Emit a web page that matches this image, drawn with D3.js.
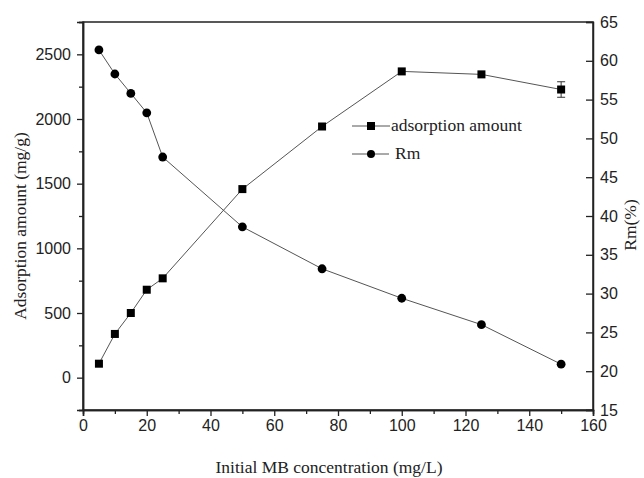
<!DOCTYPE html>
<html>
<head>
<meta charset="utf-8">
<script src="https://cdn.jsdelivr.net/npm/d3@7"></script>
<style>
  body { margin: 0; background: #fff; }
  .tick text { font-family: "Liberation Sans", Arial, sans-serif; font-size: 16px; fill: #222; }
  .lbl { font-family: "Liberation Serif", "Times New Roman", serif; font-size: 17.5px; fill: #222; }
</style>
</head>
<body>
<svg id="chart" width="644" height="478"></svg>
<script>
// Data
const conc = [5, 10, 15, 20, 25, 50, 75, 100, 125, 150];
const adsorption = [108, 338, 500, 680, 768, 1458, 1942, 2368, 2345, 2228];
const adsorptionErr = [0, 0, 0, 0, 0, 0, 0, 0, 0, 60];
const rm = [61.4, 58.3, 55.8, 53.3, 47.6, 38.6, 33.2, 29.4, 26.0, 20.9];

const xTicks = d3.range(0, 161, 20);
const leftTicks = d3.range(0, 2501, 500);
const rightTicks = d3.range(15, 66, 5);

const svg = d3.select('#chart');
const m = { left: 83, right: 593, top: 22, bottom: 410 };

const x = d3.scaleLinear().domain([0, 160]).range([m.left, m.right]);
const yL = d3.scaleLinear().domain([-250, 2750]).range([m.bottom, m.top]);
const yR = d3.scaleLinear().domain([15, 65]).range([m.bottom, m.top]);
const fmt = d3.format('d');

// frame
svg.append('rect')
  .attr('x', m.left).attr('y', m.top)
  .attr('width', m.right - m.left).attr('height', m.bottom - m.top)
  .attr('fill', 'none').attr('stroke', '#222').attr('stroke-width', 1.5);

// bottom axis: major + minor ticks outward
svg.append('g')
  .attr('transform', `translate(0,${m.bottom})`)
  .call(d3.axisBottom(x).tickValues(xTicks).tickFormat(fmt).tickSize(6).tickPadding(4));
svg.append('g')
  .attr('transform', `translate(0,${m.bottom})`)
  .call(d3.axisBottom(x).tickValues(d3.range(10, 160, 20)).tickSize(4).tickFormat(''));

// left axis
svg.append('g')
  .attr('transform', `translate(${m.left},0)`)
  .call(d3.axisLeft(yL).tickValues(leftTicks).tickFormat(fmt).tickSize(6).tickPadding(6));
svg.append('g')
  .attr('transform', `translate(${m.left},0)`)
  .call(d3.axisLeft(yL).tickValues(d3.range(-250, 2751, 500)).tickSize(4).tickFormat(''));

// right axis, ticks inward, labels outside
const rAxis = svg.append('g')
  .attr('transform', `translate(${m.right},0)`)
  .call(d3.axisRight(yR).tickValues(rightTicks).tickFormat(fmt).tickSize(-7));
rAxis.selectAll('.tick text').attr('x', 7);

svg.selectAll('.domain').attr('stroke', '#222').attr('stroke-width', 1.5);
svg.selectAll('.tick line').attr('stroke', '#222').attr('stroke-width', 1.3);

const lineColor = '#555';

// adsorption amount series
const lineA = d3.line().x((d, i) => x(conc[i])).y(d => yL(d));
svg.append('path').datum(adsorption)
  .attr('d', lineA).attr('fill', 'none').attr('stroke', lineColor).attr('stroke-width', 1);

// error bars
adsorption.forEach((v, i) => {
  const e = adsorptionErr[i];
  if (!e) return;
  const cx = x(conc[i]);
  const g = svg.append('g').attr('stroke', '#333').attr('stroke-width', 1);
  g.append('line').attr('x1', cx).attr('x2', cx).attr('y1', yL(v - e)).attr('y2', yL(v + e));
  g.append('line').attr('x1', cx - 4).attr('x2', cx + 4).attr('y1', yL(v - e)).attr('y2', yL(v - e));
  g.append('line').attr('x1', cx - 4).attr('x2', cx + 4).attr('y1', yL(v + e)).attr('y2', yL(v + e));
});

svg.selectAll('.sq').data(adsorption).enter().append('rect')
  .attr('x', (d, i) => x(conc[i]) - 4).attr('y', d => yL(d) - 4)
  .attr('width', 8).attr('height', 8).attr('fill', '#000');

// Rm series
const lineR = d3.line().x((d, i) => x(conc[i])).y(d => yR(d));
svg.append('path').datum(rm)
  .attr('d', lineR).attr('fill', 'none').attr('stroke', lineColor).attr('stroke-width', 1);
svg.selectAll('.ci').data(rm).enter().append('circle')
  .attr('cx', (d, i) => x(conc[i])).attr('cy', d => yR(d))
  .attr('r', 4.4).attr('fill', '#000');

// legend
const leg = svg.append('g');
leg.append('line').attr('x1', 352).attr('x2', 390).attr('y1', 126).attr('y2', 126)
  .attr('stroke', lineColor).attr('stroke-width', 1);
leg.append('rect').attr('x', 367).attr('y', 122).attr('width', 8).attr('height', 8).attr('fill', '#000');
leg.append('text').attr('class', 'lbl').attr('x', 391).attr('y', 131).text('adsorption amount');
leg.append('line').attr('x1', 352).attr('x2', 389).attr('y1', 154).attr('y2', 154)
  .attr('stroke', lineColor).attr('stroke-width', 1);
leg.append('circle').attr('cx', 371).attr('cy', 154).attr('r', 4).attr('fill', '#000');
leg.append('text').attr('class', 'lbl').attr('x', 395).attr('y', 159).text('Rm');

// axis titles
svg.append('text').attr('class', 'lbl')
  .attr('transform', 'translate(26,226) rotate(-90)')
  .attr('text-anchor', 'middle').text('Adsorption amount (mg/g)');
svg.append('text').attr('class', 'lbl')
  .attr('transform', 'translate(636,225) rotate(-90)')
  .attr('text-anchor', 'middle').text('Rm(%)');
svg.append('text').attr('class', 'lbl')
  .attr('x', 329).attr('y', 473)
  .attr('text-anchor', 'middle').text('Initial MB concentration (mg/L)');
</script>
</body>
</html>
